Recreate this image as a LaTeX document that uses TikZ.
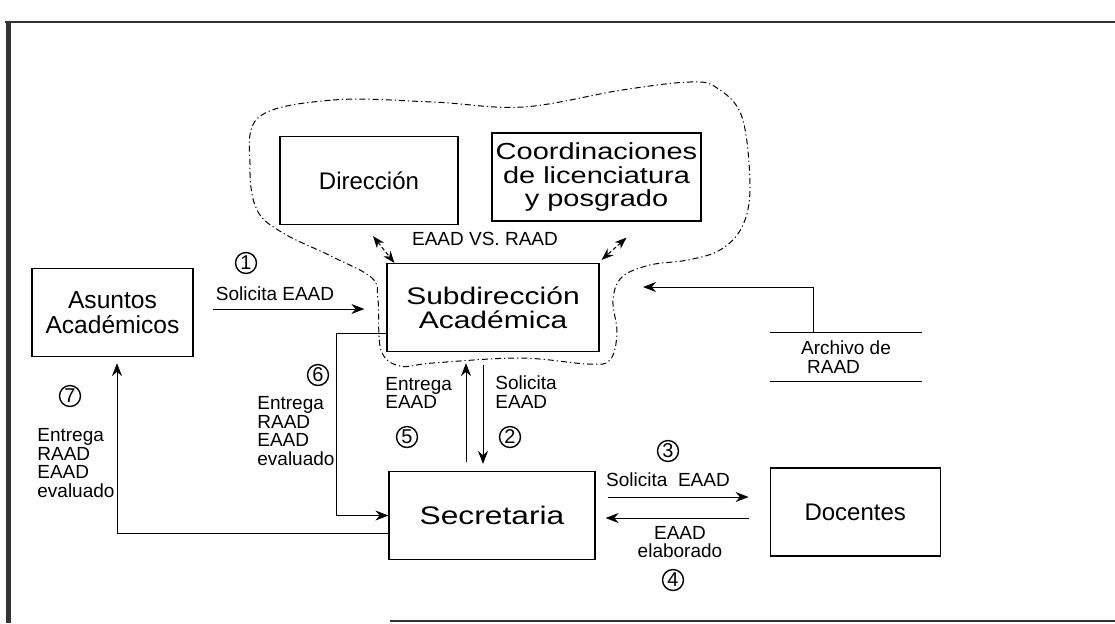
\documentclass[tikz,border=0pt]{standalone}
\usepackage{fontspec}
\setmainfont{Liberation Sans}
\newfontfamily\widefont[FakeStretch=1.25]{Liberation Sans}
\usepackage{tikz}
\usetikzlibrary{arrows.meta, positioning, calc}
\tikzset{
  box/.style={
    rectangle, draw, line width=0.6pt, minimum height=44pt, inner sep=0pt,
    align=center, font=\fontsize{12}{12}\selectfont
  },
  arrow/.style={
    -{Stealth[length=6.5pt,width=5pt]}, line width=0.5pt
  },
  dblarrow/.style={
    {Stealth[length=6pt,width=4.5pt]}-{Stealth[length=6pt,width=4.5pt]},
    dash pattern=on 2pt off 1.2pt, line width=0.5pt
  },
  lbl/.style={inner sep=0pt, align=left, font=\fontsize{9.5}{9.2}\selectfont},
  num/.style={circle, draw, line width=0.7pt, inner sep=0pt, minimum size=10.5pt,
    font=\fontsize{10}{10}\selectfont},
  cloud/.style={line width=0.5pt, dash pattern=on 3pt off 1.5pt on 0.6pt off 1.5pt},
  frame/.style={draw=black!80}
}

\begin{document}
\begin{tikzpicture}[x=0.5pt, y=-0.5pt]
\useasboundingbox (0,0) rectangle (1115,623);

% frame of the scan
\draw[frame, line width=1pt] (5,22) -- (1115,22);
\draw[frame, line width=2.5pt] (8,22) -- (8,623);
\draw[frame, line width=1pt] (390,621) -- (1115,621);

% boxes
\node[box, minimum width=89pt] (dir) at (369,180.5) {Dirección};
\node[box, minimum width=104.5pt, font=\widefont\fontsize{11.6}{11.6}\selectfont] (coord) at (596.5,177)
  {Coordinaciones\\de licenciatura\\y posgrado};
\node[box, minimum width=106pt, font=\widefont\fontsize{12}{12}\selectfont] (sub) at (493,307.5)
  {Subdirección\\Académica};
\node[box, minimum width=80.5pt, font=\fontsize{12.3}{12.3}\selectfont] (asu) at (112.5,312.5)
  {Asuntos\\Académicos};
\node[box, minimum width=103pt, font=\widefont\fontsize{12.7}{12.7}\selectfont] (sec) at (492,515.5) {Secretaria};
\node[box, minimum width=85pt, right=87pt of sec, yshift=1.75pt] (doc) {Docentes};

% archivo
\node[lbl, minimum width=76pt, minimum height=24pt, align=left] (arch) at (846,357)
  {Archivo de\\\hspace*{3pt}RAAD};
\draw[line width=0.5pt] (arch.north west) -- (arch.north east)
  (arch.south west) -- (arch.south east);

% area de la subdireccion
\draw[cloud] plot[smooth cycle, tension=0.6] coordinates {
  (259,117) (333,100) (433,102) (523,107) (622,90) (690,82) (717,88)
  (742,117) (750,187) (742,227) (720,250) (688,260) (650,265) (622,277)
  (613,300) (617,333) (610,360) (588,364) (520,358) (433,363) (400,366)
  (381,350) (378,300) (372,278) (333,257) (283,233) (257,210) (250,167)};
\coordinate (cl) at (643,287);

% connectors
\draw[dblarrow] ([xshift=2pt,yshift=-5.5pt]dir.south) -- ([xshift=4pt]sub.north west);
\draw[dblarrow] ([xshift=15pt,yshift=-8pt]coord.south) -- ([xshift=1pt,yshift=1.5pt]sub.north east);
\node[lbl] (vs) at (485,239) {EAAD VS. RAAD};

\draw[arrow, shorten <=9.5pt, shorten >=11pt] ([yshift=1.75pt]asu.east) -- ([yshift=1.75pt]asu.east -| sub.west);
\draw[arrow, shorten <=6.5pt, shorten >=3.5pt] ([xshift=-5pt]sub.south) -- ([xshift=-5pt]sub.south |- sec.north);
\draw[arrow, shorten <=4.5pt, shorten >=5.5pt] ([xshift=-13pt]sec.north) -- ([xshift=-13pt]sec.north |- sub.south);
\draw[arrow] ([yshift=-12.75pt]sub.west) -- ++(-25pt,0) |- (sec.west);
\draw[arrow, shorten >=3pt] ([yshift=-8.75pt]sec.west) -| ([xshift=2.25pt]asu.south);
\draw[arrow, shorten <=6pt, shorten >=10.5pt] ([yshift=9.25pt]sec.east) -- ([yshift=9.25pt]sec.east -| doc.west);
\draw[arrow, shorten <=10.5pt, shorten >=5pt] ([yshift=-1.25pt]sec.east -| doc.west) -- ([yshift=-1.25pt]sec.east);
\draw[arrow] ([xshift=-16.5pt]arch.north) |- (cl);

% labels
\node[num] (n1) at (246,263) {1};
\node[lbl] (l1) at (275,294) {Solicita EAAD};
\node[lbl, anchor=west] (l2) at (495,392) {Solicita\\EAAD};
\node[num] (n2) at (510,437) {2};
\node[num] (n3) at (668,451) {3};
\node[lbl] (l3) at (668,480) {Solicita\ \ EAAD};
\node[lbl, align=center] (l4) at (680,542) {EAAD\\elaborado};
\node[num] (n4) at (673,580) {4};
\node[lbl, anchor=west] (l5) at (385,393) {Entrega\\EAAD};
\node[num] (n5) at (407,437) {5};
\node[num] (n6) at (318,375) {6};
\node[lbl, anchor=west] (l6) at (257,431) {Entrega\\RAAD\\EAAD\\evaluado};
\node[num] (n7) at (70,396) {7};
\node[lbl, anchor=west] (l7) at (37,463) {Entrega\\RAAD\\EAAD\\evaluado};
\end{tikzpicture}
\end{document}
